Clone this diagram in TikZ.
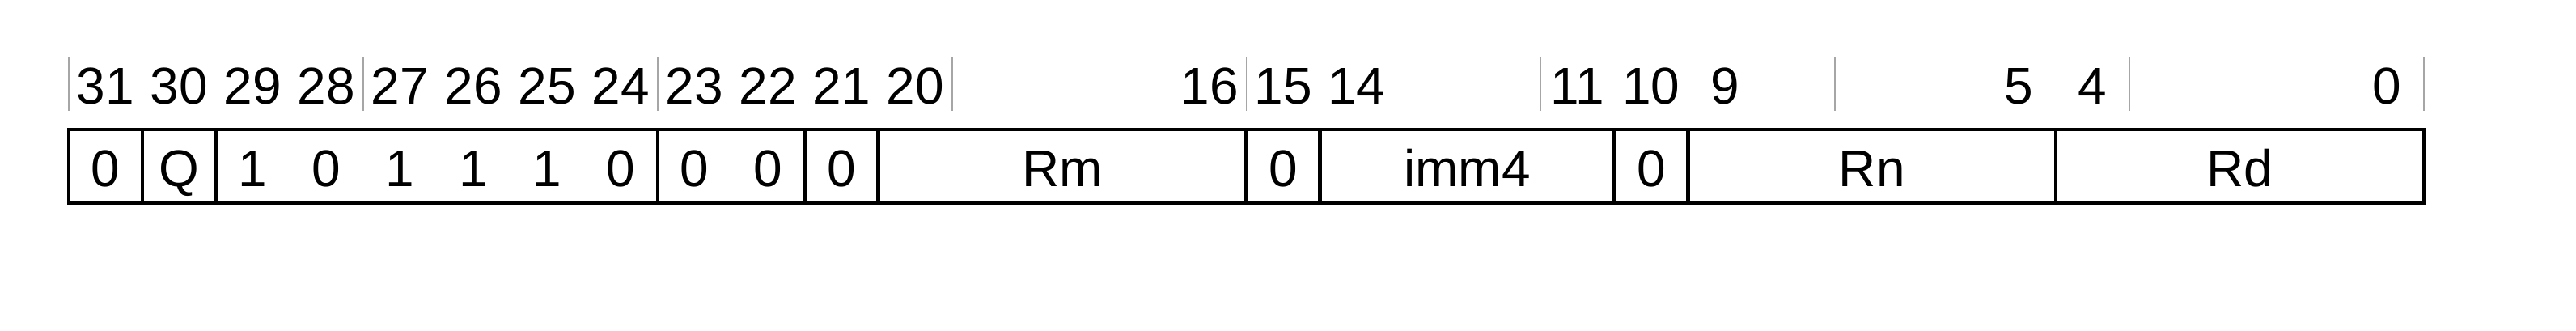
\documentclass[tikz,border=0pt]{standalone}
\usepackage{fontspec}
\setmainfont{Liberation Sans}
\usetikzlibrary{positioning}

\begin{document}
\begin{tikzpicture}[
    x=0.5cm, y=0.5cm,
    field/.style={rectangle, draw, line width=0.7pt, outer sep=0pt, inner sep=0pt, minimum height=0.5cm, anchor=south west},
    fieldtxt/.style={anchor=base, inner sep=0pt, font=\normalsize},
    bitnum/.style={anchor=base, inner sep=0pt, font=\normalsize},
    tickline/.style={draw=gray!70, line width=0.3pt}
]
\useasboundingbox (-0.934,-1.729) rectangle (34.066,2.756);

% Fields of the encoding, left to right
\foreach \name/\pos/\len/\txt in {b31/0/1/{}, q/1/1/{}, op/2/6/{}, size/8/2/{}, b21/10/1/{},
    rm/11/5/Rm, b15/16/1/{}, imm/17/4/imm4, b10/21/1/{}, rn/22/5/Rn, rd/27/5/Rd}{
  \node[field, minimum width=\len*0.5cm] (\name) at (\pos,0) {};
  \node[fieldtxt] (\name-t) at ({\pos+\len/2},0.227) {\txt};
}

% Fixed bit values
\foreach \b/\v in {0/0,1/Q,2/1,3/0,4/1,5/1,6/1,7/0,8/0,9/0,10/0,16/0,21/0}
  \node[fieldtxt] (v\b) at (\b+0.5,0.227) {\v};

% Bit numbers above
\foreach \n in {31,30,29,28,27,26,25,24,23,22,21,20,16,15,14,11,10,9,5,4,0}
  \node[bitnum] (n\n) at (31.5-\n,1.346) {\n};

% Ticks every 4 bits
\foreach \x in {0,4,...,32}
  \draw[tickline] (\x,1.253) -- (\x,1.986);

\end{tikzpicture}
\end{document}
